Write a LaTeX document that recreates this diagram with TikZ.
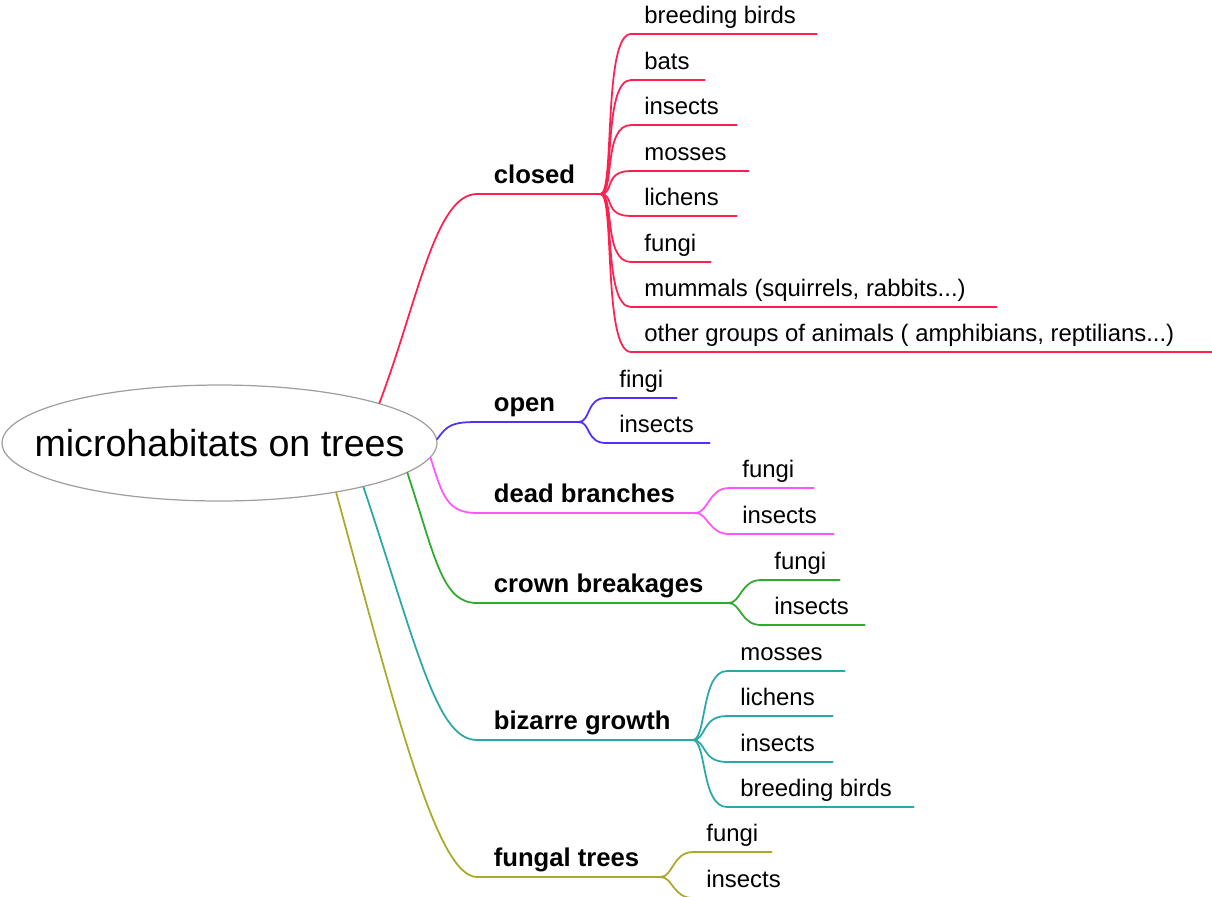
\documentclass[tikz,border=0pt]{standalone}
\usepackage{fontspec}
\setmainfont{Liberation Sans}
\usetikzlibrary{shapes.geometric}

\definecolor{closedc}{HTML}{FF2050}
\definecolor{openc}{HTML}{5030FF}
\definecolor{deadc}{HTML}{FF55FF}
\definecolor{crownc}{HTML}{2EAA2E}
\definecolor{bizarrec}{HTML}{2AA8A8}
\definecolor{fungalc}{HTML}{AAAA2A}

\newlength\pxu
\setlength\pxu{0.02cm}

\tikzset{
  root/.style={ellipse, draw=gray!75, line width=0.7pt, minimum width=8.7cm, minimum height=2.32cm,
    inner sep=0pt, font=\fontsize{21.4}{25}\selectfont},
  topic/.style={anchor=south west, inner xsep=0.33cm, inner ysep=0.1cm, text depth=0.1cm,
    font=\bfseries\fontsize{14.6}{17}\selectfont},
  leaf/.style={anchor=south west, inner xsep=0.26cm, inner ysep=0.1cm, text depth=0.1cm,
    font=\fontsize{13.6}{16}\selectfont},
  twig/.style={line width=1pt, line cap=round},
}

\begin{document}
\begin{tikzpicture}[x=0.02cm, y=-0.02cm]
	\useasboundingbox (0,0) rectangle (1212,896);

	\node[root] (tree) at (219.5,443) {\makebox[0pt]{microhabitats on trees}};

	% main branches
	\node[topic] (closed) at (477,194) {\makebox[90\pxu][l]{closed}};
	\draw[twig, closedc] (tree.14.4) .. controls +(38,-100) and +(-42,0) .. (closed.south west) -- (closed.south east);
	\node[topic] (open) at (477,422) {\makebox[68\pxu][l]{open}};
	\draw[twig, openc] (tree.1.4) .. controls +(10,-14) and +(-25,0) .. (open.south west) -- (open.south east);
	\node[topic] (dead) at (477,513) {\makebox[185\pxu][l]{dead branches}};
	\draw[twig, deadc] (tree.-4) .. controls +(12,38) and +(-30,0) .. (dead.south west) -- (dead.south east);
	\node[topic] (crown) at (477,603) {\makebox[218\pxu][l]{crown breakages}};
	\draw[twig, crownc] (tree.-9.4) .. controls +(28,85) and +(-35,0) .. (crown.south west) -- (crown.south east);
	\node[topic] (bizarre) at (477,740) {\makebox[182\pxu][l]{bizarre growth}};
	\draw[twig, bizarrec] (tree.-17) .. controls +(55,165) and +(-40,0) .. (bizarre.south west) -- (bizarre.south east);
	\node[topic] (fungal) at (477,877) {\makebox[150\pxu][l]{fungal trees}};
	\draw[twig, fungalc] (tree.-23.8) .. controls +(60,220) and +(-40,0) .. (fungal.south west) -- (fungal.south east);

	% leaves
	\foreach \y/\w/\t [count=\i] in {34/159/breeding birds, 80/47/bats, 125/79/insects, 171/91/mosses,
			216/79/lichens, 262/53/fungi, 307/339/{mummals (squirrels, rabbits...)},
			352/555/{other groups of animals ( amphibians, reptilians...)}} {
			\node[leaf] (closed-\i) at (631,\y) {\makebox[\w\pxu][l]{\t}};
			\draw[twig, closedc] (closed.south east) .. controls +(14,0) and +(-28,0) .. (closed-\i.south west) -- (closed-\i.south east);
		}
	\foreach \y/\w/\t [count=\i] in {398/44/fingi, 443/77/insects} {
			\node[leaf] (open-\i) at (606,\y) {\makebox[\w\pxu][l]{\t}};
			\draw[twig, openc] (open.south east) .. controls +(12,0) and +(-20,0) .. (open-\i.south west) -- (open-\i.south east);
		}
	\foreach \y/\w/\t [count=\i] in {488/58/fungi, 534/78/insects} {
			\node[leaf] (dead-\i) at (729,\y) {\makebox[\w\pxu][l]{\t}};
			\draw[twig, deadc] (dead.south east) .. controls +(12,0) and +(-20,0) .. (dead-\i.south west) -- (dead-\i.south east);
		}
	\foreach \y/\w/\t [count=\i] in {580/52/fungi, 625/77/insects} {
			\node[leaf] (crown-\i) at (761,\y) {\makebox[\w\pxu][l]{\t}};
			\draw[twig, crownc] (crown.south east) .. controls +(12,0) and +(-20,0) .. (crown-\i.south west) -- (crown-\i.south east);
		}
	\foreach \y/\w/\t [count=\i] in {671/91/mosses, 716/79/lichens, 762/79/insects, 807/160/breeding birds} {
			\node[leaf] (bizarre-\i) at (727,\y) {\makebox[\w\pxu][l]{\t}};
			\draw[twig, bizarrec] (bizarre.south east) .. controls +(14,0) and +(-26,0) .. (bizarre-\i.south west) -- (bizarre-\i.south east);
		}
	\foreach \y/\w/\t [count=\i] in {852/52/fungi, 898/77/insects} {
			\node[leaf] (fungal-\i) at (693,\y) {\makebox[\w\pxu][l]{\t}};
			\draw[twig, fungalc] (fungal.south east) .. controls +(12,0) and +(-20,0) .. (fungal-\i.south west) -- (fungal-\i.south east);
		}
\end{tikzpicture}
\end{document}
